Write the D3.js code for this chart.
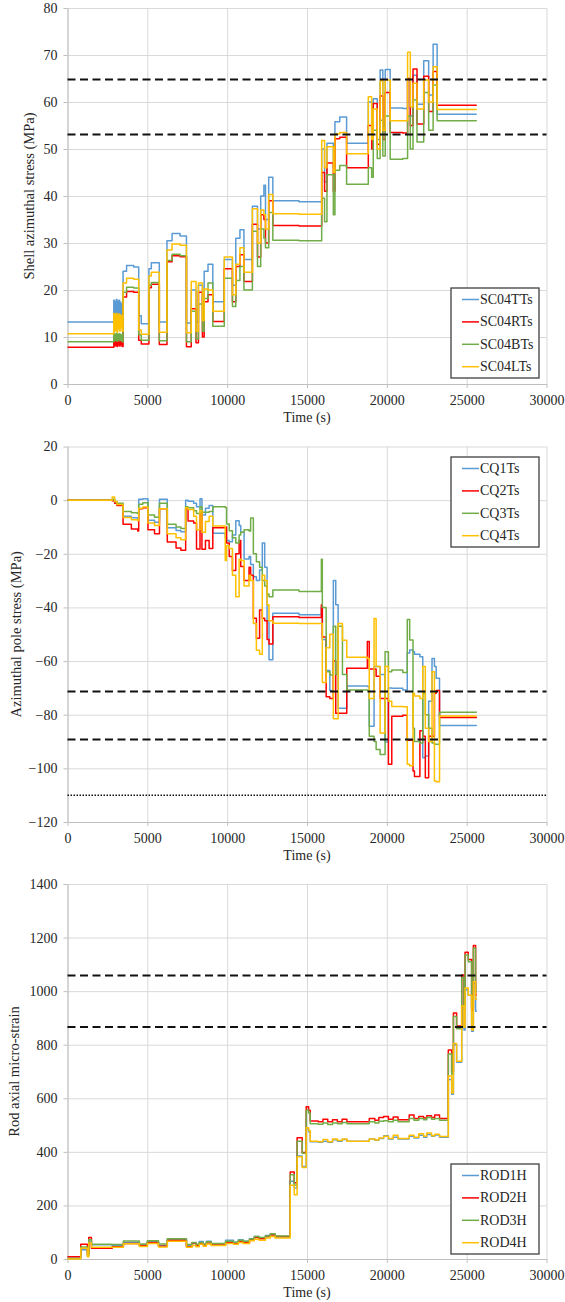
<!DOCTYPE html>
<html>
<head>
<meta charset="utf-8">
<script src="https://cdn.jsdelivr.net/npm/d3@7"></script>
<style>
  body { margin: 0; background: #fff; }
  svg { display: block; font-family: "Liberation Serif", "Times New Roman", serif; }
</style>
</head>
<body>
<svg id="chart" width="565" height="1302"></svg>
<script>
// ---------- shared axis ----------
const timeTicks = [0, 5000, 10000, 15000, 20000, 25000, 30000];

// ---------- panel 1: shell azimuthal stress (MPa) ----------
const p1Time = [0,2900,2940,2980,3020,3060,3100,3140,3180,3220,3260,3300,3340,3380,3420,3480,3700,4150,4460,4620,5100,5250,5750,6230,6550,7050,7450,7750,8050,8200,8450,8560,8800,9100,9820,10330,10540,10800,11050,11580,11900,12100,12300,12400,12600,12860,14500,15920,16100,16250,16650,16750,17050,17480,18840,19050,19150,19400,19580,19750,19900,20210,21000,21300,21470,21640,21890,22310,22620,22900,23150,25600];
const sc04TT = [13.2,17.8,13.5,17.5,13.8,18.0,13.5,17.6,14.0,17.8,13.6,17.4,14.2,17.0,13.5,24.0,25.2,24.9,14.5,12.8,24.5,25.8,13.2,30.5,32.0,31.5,13.0,20.0,13.2,21.0,17.0,24.0,25.5,17.5,26.5,21.0,31.0,32.8,26.5,37.8,33.0,40.0,42.3,35.0,44.0,39.0,38.8,50.0,43.0,51.2,46.0,55.8,56.8,51.2,60.0,53.0,60.7,52.0,66.8,55.0,66.9,58.7,58.6,65.0,57.0,65.7,59.5,68.8,61.5,72.3,57.4,57.3];
const sc04RT = [7.8,9.4,8.1,9.3,8.2,9.5,8.0,9.2,8.3,9.4,8.1,9.1,8.4,9.0,8.0,18.5,19.7,19.5,9.3,8.5,20.5,21.2,8.4,26.0,27.3,27.1,7.9,16.0,8.8,19.5,10.0,17.5,19.0,13.3,24.5,17.5,25.0,27.5,21.8,34.0,27.0,36.0,35.0,30.0,39.0,33.7,33.6,45.0,41.0,47.0,41.0,52.2,52.5,46.0,55.0,50.0,59.7,51.0,61.3,52.0,62.0,53.5,53.4,65.0,55.0,67.0,55.3,65.5,58.0,66.5,59.3,59.2];
const sc04BT = [9.0,10.8,9.2,10.6,9.3,10.8,9.1,10.5,9.4,10.7,9.2,10.6,9.5,10.4,9.0,19.5,20.6,20.4,10.5,9.3,21.0,21.6,9.2,26.3,27.6,27.3,9.0,15.5,9.6,17.0,11.2,18.2,21.5,12.3,22.5,16.5,22.0,25.0,20.0,32.5,25.0,33.0,31.0,29.0,36.5,30.6,30.5,39.5,34.5,44.5,36.0,45.5,46.5,42.5,46.0,44.0,54.0,48.0,56.1,48.5,57.0,47.8,48.0,57.0,50.0,60.4,51.5,62.0,54.0,63.6,56.0,55.9];
const sc04LT = [10.7,15.0,11.2,14.8,11.5,15.0,11.0,14.6,11.8,14.9,11.3,14.7,12.0,14.5,11.2,21.5,22.5,22.3,11.5,10.6,23.0,23.8,11.0,28.5,29.8,29.5,10.9,21.8,11.2,21.5,13.5,20.2,20.0,15.5,27.0,19.0,25.5,29.0,23.8,37.3,30.0,37.0,36.0,33.0,40.3,36.2,36.1,51.8,46.0,50.5,45.0,53.2,53.5,49.0,61.1,52.0,58.5,50.0,64.5,54.0,64.7,56.0,56.0,70.6,59.0,64.0,58.5,64.7,60.0,67.5,58.4,58.3];
const p1Ticks = [0, 10, 20, 30, 40, 50, 60, 70, 80];
const p1Dashed = [64.8, 53.1];

// ---------- panel 2: azimuthal pole stress (MPa) ----------
const p2Time = [0,2800,2950,3100,3480,4000,4400,4460,4720,5040,5450,5760,6250,6800,7100,7400,7550,7900,8080,8300,8420,8640,8870,9100,9880,9960,10130,10330,10540,10750,10850,11060,11370,11470,11640,11830,12030,12200,12350,12500,12620,12860,14500,15900,15960,16200,16430,16650,16800,16950,17220,17490,18780,18900,19200,19330,19580,19890,20100,20310,21000,21280,21430,21640,21730,22070,22250,22410,22620,22830,22980,23090,23300,25600];
const cq1 = [0,0.3,-0.8,-1.5,-6.0,-6.6,-7.0,0.3,0.5,-7.5,-8.2,0.3,-10.3,-11.3,-11.8,0.0,-0.4,-1.2,-2.5,0.5,-5.5,-3.0,-2.0,-12.3,-14.0,-15.0,-15.5,-13.0,-7.7,-9.5,-12.0,-21.9,-21.0,-24.0,-28.6,-30.0,-26.0,-16.0,-25.0,-45.0,-59.5,-42.2,-42.7,-40.0,-52.0,-63.5,-71.0,-30.0,-39.0,-77.6,-77.6,-69.3,-69.5,-84.3,-62.0,-62.0,-65.0,-90.2,-70.0,-70.1,-70.8,-57.0,-55.9,-56.5,-57.5,-58.4,-96.0,-95.4,-75.0,-59.0,-62.0,-66.4,-84.0,-84.2];
const cq2 = [0,-0.2,-1.2,-2.0,-9.0,-10.8,-11.5,-3.2,-2.8,-11.0,-12.5,-3.2,-15.6,-17.8,-18.7,-3.3,-7.8,-8.5,-18.2,-5.0,-18.3,-15.0,-18.0,-10.3,-10.0,-16.0,-21.0,-26.2,-20.0,-15.0,-24.7,-30.0,-25.0,-28.0,-44.0,-51.5,-41.0,-44.0,-45.0,-52.0,-53.6,-43.5,-43.8,-39.0,-51.0,-73.3,-74.0,-60.0,-79.5,-79.5,-79.5,-62.7,-52.7,-63.0,-63.0,-65.7,-74.0,-74.0,-98.5,-80.6,-80.2,-89.5,-89.5,-101.0,-103.0,-86.0,-88.0,-103.5,-88.0,-88.0,-72.0,-71.0,-81.0,-81.3];
const cq3 = [0,0.2,-0.6,-1.2,-4.2,-4.7,-5.0,-1.5,-1.0,-5.5,-6.4,-1.2,-9.0,-10.0,-10.6,-2.5,-2.8,-4.0,-5.0,-2.5,-4.5,-4.5,-4.2,-2.5,-2.7,-8.9,-11.4,-14.0,-16.0,-13.0,-12.0,-11.0,-11.5,-6.7,-20.0,-23.0,-25.0,-30.0,-32.0,-35.0,-36.0,-33.5,-34.1,-22.0,-40.0,-64.0,-65.2,-47.0,-65.0,-47.0,-65.0,-70.8,-71.0,-88.0,-90.0,-93.0,-94.8,-56.5,-64.0,-63.3,-64.3,-44.5,-52.1,-85.0,-90.0,-90.5,-72.0,-80.0,-85.0,-90.5,-91.0,-91.0,-79.1,-78.8];
const cq4 = [0,1.2,-0.5,-1.6,-6.5,-7.3,-7.7,-3.0,-2.6,-8.5,-9.5,-3.2,-12.5,-14.0,-14.8,-2.8,-3.5,-6.0,-11.0,-4.0,-12.0,-8.0,-6.0,-9.6,-22.5,-17.0,-18.0,-28.0,-36.0,-22.0,-22.5,-32.0,-28.0,-30.0,-46.0,-56.0,-57.5,-28.0,-30.0,-39.0,-45.0,-45.9,-46.0,-46.0,-68.0,-55.0,-50.0,-81.5,-81.5,-46.0,-52.2,-58.6,-59.0,-74.0,-44.1,-62.0,-86.8,-62.0,-75.0,-76.9,-77.0,-98.5,-99.0,-72.0,-73.0,-74.0,-62.0,-85.0,-90.0,-64.0,-104.7,-105.0,-80.5,-80.7];
const p2Ticks = [-120, -100, -80, -60, -40, -20, 0, 20];
const p2Dashed = [-71.3, -89.2];
const p2Dotted = [-110];

// ---------- panel 3: rod axial micro-strain ----------
const p3Time = [0,830,1250,1330,1500,2800,3500,4500,5000,5700,6250,7450,7800,8050,8250,8500,8700,9000,9900,10400,10700,11000,11400,11700,12000,12400,12700,13000,13950,14200,14380,14700,14950,15100,15200,15700,16000,16300,16600,16900,17200,17500,18900,19250,19500,19800,20100,20400,20700,21400,21700,22000,22300,22500,22800,23000,23300,23850,24060,24170,24370,24690,24830,24900,25100,25310,25420,25560,25640];
const rod1 = [3,35,15,62,53,50,62,52,64,50,72,50,58,50,65,55,66,56,70,62,72,66,76,84,78,88,92,82,290,265,385,345,485,475,438,436,440,436,445,440,446,440,448,443,450,460,448,455,448,458,452,462,455,465,458,463,455,670,615,800,735,940,855,1005,985,850,1030,925,925];
const rod2 = [8,55,20,80,40,46,58,50,62,48,70,46,60,50,58,52,60,52,62,58,66,62,72,80,76,84,90,84,325,285,453,398,568,555,515,512,522,512,520,512,522,512,525,518,528,532,522,530,520,538,525,532,526,535,528,538,525,780,700,918,870,1060,950,1145,1118,930,1170,985,985];
const rod3 = [2,45,12,72,55,54,67,56,68,56,76,54,62,55,62,56,64,58,66,63,70,66,75,84,80,86,94,86,315,275,440,395,555,545,505,503,508,502,508,505,510,505,512,508,514,516,512,518,512,525,518,525,520,528,522,525,518,765,690,905,860,1050,945,1135,1110,940,1160,1000,1000];
const rod4 = [0,40,8,60,44,44,57,47,58,45,66,44,50,46,55,48,56,50,58,55,62,58,68,74,70,78,84,78,275,240,382,342,490,480,440,438,446,438,448,442,448,440,448,444,452,458,450,462,450,462,455,468,458,470,460,466,457,683,620,805,738,945,865,1012,985,855,1035,970,970];
const p3Ticks = [0, 200, 400, 600, 800, 1000, 1200, 1400];
const p3Dashed = [1058, 866];

// ---------- series colours ----------
const colors = ["#5B9BD5", "#FF0000", "#70AD47", "#FFC000"];

const panels = [
  { top: 8, bottom: 384, domain: [0, 80], ticks: p1Ticks, title: "Shell azimuthal stress (MPa)", titleX: 29,
    legendTop: 288, times: p1Time, dashed: p1Dashed, dotted: [],
    series: [["SC04TTs", sc04TT], ["SC04RTs", sc04RT], ["SC04BTs", sc04BT], ["SC04LTs", sc04LT]] },
  { top: 446.5, bottom: 822, domain: [-120, 20], ticks: p2Ticks, title: "Azimuthal pole stress (MPa)", titleX: 16,
    legendTop: 457, times: p2Time, dashed: p2Dashed, dotted: p2Dotted,
    series: [["CQ1Ts", cq1], ["CQ2Ts", cq2], ["CQ3Ts", cq3], ["CQ4Ts", cq4]] },
  { top: 884, bottom: 1259, domain: [0, 1400], ticks: p3Ticks, title: "Rod axial micro-strain", titleX: 14,
    legendTop: 1164, times: p3Time, dashed: p3Dashed, dotted: [],
    series: [["ROD1H", rod1], ["ROD2H", rod2], ["ROD3H", rod3], ["ROD4H", rod4]] }
];

const svg = d3.select("#chart");
const left = 67.5, right = 546.5;
const x = d3.scaleLinear().domain([0, 30000]).range([left, right]);
const FONT = '"Liberation Serif", "Times New Roman", serif';
const textColor = "#262626";
const gridColor = "#d9d9d9";
const axisColor = "#bfbfbf";

function styleAxis(s) {
  s.attr("font-family", FONT).attr("font-size", 14);
  s.select(".domain").attr("stroke", axisColor);
  s.selectAll("line").attr("stroke", axisColor);
  s.selectAll("text").attr("fill", textColor);
}

panels.forEach(p => {
  const y = d3.scaleLinear().domain(p.domain).range([p.bottom, p.top]);
  const g = svg.append("g");

  // gridlines
  g.append("g")
    .attr("transform", `translate(${left},0)`)
    .call(d3.axisLeft(y).tickValues(p.ticks).tickSize(-(right - left)).tickFormat(""))
    .call(s => s.select(".domain").remove())
    .call(s => s.selectAll("line").attr("stroke", gridColor));
  g.append("g")
    .attr("transform", `translate(0,${p.bottom})`)
    .call(d3.axisBottom(x).tickValues(timeTicks).tickSize(-(p.bottom - p.top)).tickFormat(""))
    .call(s => s.select(".domain").remove())
    .call(s => s.selectAll("line").attr("stroke", gridColor));

  // y axis with labels
  g.append("g")
    .attr("transform", `translate(${left},0)`)
    .call(d3.axisLeft(y).tickValues(p.ticks).tickSize(4).tickSizeOuter(0).tickPadding(6).tickFormat(d3.format("d")))
    .call(styleAxis);

  // x axis with labels
  g.append("g")
    .attr("transform", `translate(0,${p.bottom})`)
    .call(d3.axisBottom(x).tickValues(timeTicks).tickSize(4).tickSizeOuter(0).tickPadding(7).tickFormat(d3.format("d")))
    .call(styleAxis);

  // axis titles
  g.append("text")
    .attr("x", (left + right) / 2).attr("y", p.bottom + 38)
    .attr("text-anchor", "middle").attr("fill", textColor)
    .attr("font-family", FONT).attr("font-size", 14).text("Time (s)");
  g.append("text")
    .attr("transform", `translate(${p.titleX},${(p.top + p.bottom) / 2}) rotate(-90)`)
    .attr("text-anchor", "middle").attr("dominant-baseline", "central").attr("fill", textColor)
    .attr("font-family", FONT).attr("font-size", 14.5).text(p.title);

  // data series (step traces)
  const line = d3.line()
    .x(d => x(d[0])).y(d => y(d[1]))
    .curve(d3.curveStepAfter);
  p.series.forEach((s, i) => {
    const pts = p.times.map((t, k) => [t, s[1][k]]);
    g.append("path")
      .datum(pts)
      .attr("d", line)
      .attr("fill", "none")
      .attr("stroke", colors[i])
      .attr("stroke-width", 1.5)
      .attr("stroke-linejoin", "round");
  });

  // reference levels
  p.dashed.forEach(v => {
    g.append("line")
      .attr("x1", left).attr("x2", right).attr("y1", y(v)).attr("y2", y(v))
      .attr("stroke", "#111").attr("stroke-width", 2).attr("stroke-dasharray", "8,4.5");
  });
  p.dotted.forEach(v => {
    g.append("line")
      .attr("x1", left).attr("x2", right).attr("y1", y(v)).attr("y2", y(v))
      .attr("stroke", "#111").attr("stroke-width", 1.5).attr("stroke-dasharray", "1.5,1.5");
  });

  // legend
  const lg = g.append("g").attr("transform", `translate(451,${p.legendTop})`);
  lg.append("rect").attr("width", 88).attr("height", 90)
    .attr("fill", "#fff").attr("stroke", "#404040").attr("stroke-width", 1.3);
  p.series.forEach((s, i) => {
    const yy = 11.5 + i * 22.4;
    lg.append("line").attr("x1", 11).attr("x2", 28).attr("y1", yy).attr("y2", yy)
      .attr("stroke", colors[i]).attr("stroke-width", 1.5);
    lg.append("text").attr("x", 29).attr("y", yy).attr("dominant-baseline", "central")
      .attr("fill", textColor).attr("font-family", FONT).attr("font-size", 14).text(s[0]);
  });
});
</script>
</body>
</html>
